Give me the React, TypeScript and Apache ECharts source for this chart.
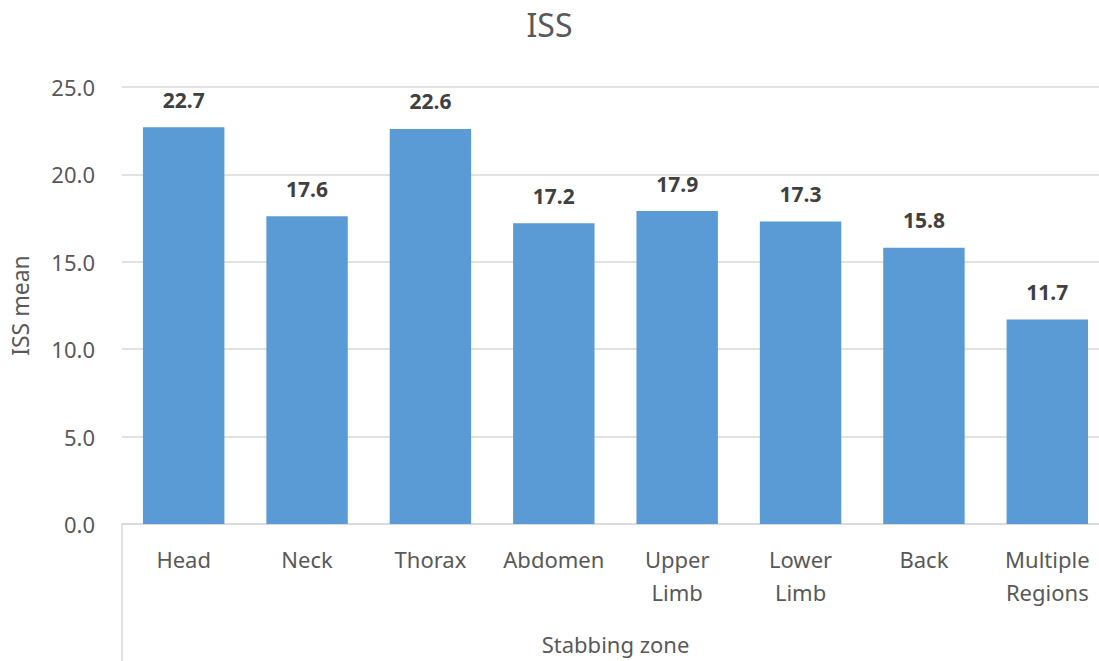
import React, { useEffect, useRef } from "react";
import * as echarts from "echarts";

const categories = ["Head", "Neck", "Thorax", "Abdomen", "Upper\nLimb", "Lower\nLimb", "Back", "Multiple\nRegions"];
const values = [22.7, 17.6, 22.6, 17.2, 17.9, 17.3, 15.8, 11.7];
const yTicks = { min: 0, max: 25, interval: 5 };
const titleText = "ISS";
const xName = "Stabbing zone";
const yName = "ISS mean";

const FONT = "'Noto Sans', 'Open Sans', sans-serif";

export default function App() {
  const ref = useRef<HTMLDivElement>(null);
  useEffect(() => {
    if (!ref.current) return;
    const chart = echarts.init(ref.current, undefined, { renderer: "svg" });
    chart.setOption({
      animation: false,
      backgroundColor: "#ffffff",
      title: {
        text: titleText,
        left: "center",
        top: 3,
        textStyle: { fontFamily: FONT, fontSize: 32, fontWeight: "normal", color: "#595959" },
      },
      grid: { left: 122, top: 87, width: 987, height: 437, outerBoundsMode: "none", containLabel: false },
      xAxis: {
        type: "category",
        data: categories,
        name: xName,
        nameLocation: "middle",
        nameGap: 109,
        nameTextStyle: { fontFamily: FONT, fontSize: 22, color: "#595959" },
        axisLine: { lineStyle: { color: "#d9d9d9", width: 1.5 } },
        axisTick: { show: false },
        axisLabel: {
          fontFamily: FONT,
          fontSize: 22,
          color: "#595959",
          margin: 18,
          lineHeight: 33,
          interval: 0,
        },
      },
      yAxis: {
        type: "value",
        min: yTicks.min,
        max: yTicks.max,
        interval: yTicks.interval,
        name: yName,
        nameLocation: "middle",
        nameGap: 91,
        nameTextStyle: { fontFamily: FONT, fontSize: 23, color: "#595959" },
        axisLine: { show: false },
        axisTick: { show: false },
        splitLine: { lineStyle: { color: "#d9d9d9", width: 1.5 } },
        axisLabel: {
          fontFamily: FONT,
          fontSize: 22,
          color: "#595959",
          margin: 27,
          formatter: (v: number) => v.toFixed(1),
        },
      },
      series: [
        {
          type: "bar",
          data: values,
          barWidth: "66%",
          itemStyle: { color: "#5b9bd5" },
          label: {
            show: true,
            position: "top",
            distance: 17,
            fontFamily: FONT,
            fontSize: 21,
            fontWeight: "bold",
            color: "#404040",
            formatter: (p: any) => Number(p.value).toFixed(1),
          },
        },
      ],
      graphic: [
        {
          type: "line",
          shape: { x1: 122, y1: 524, x2: 122, y2: 661 },
          style: { stroke: "#d9d9d9", lineWidth: 1.5 },
        },
      ],
    });
    return () => chart.dispose();
  }, []);
  return (
    <div
      ref={ref}
      style={{ position: "fixed", left: 0, top: 0, width: 1099, height: 661 }}
    />
  );
}
